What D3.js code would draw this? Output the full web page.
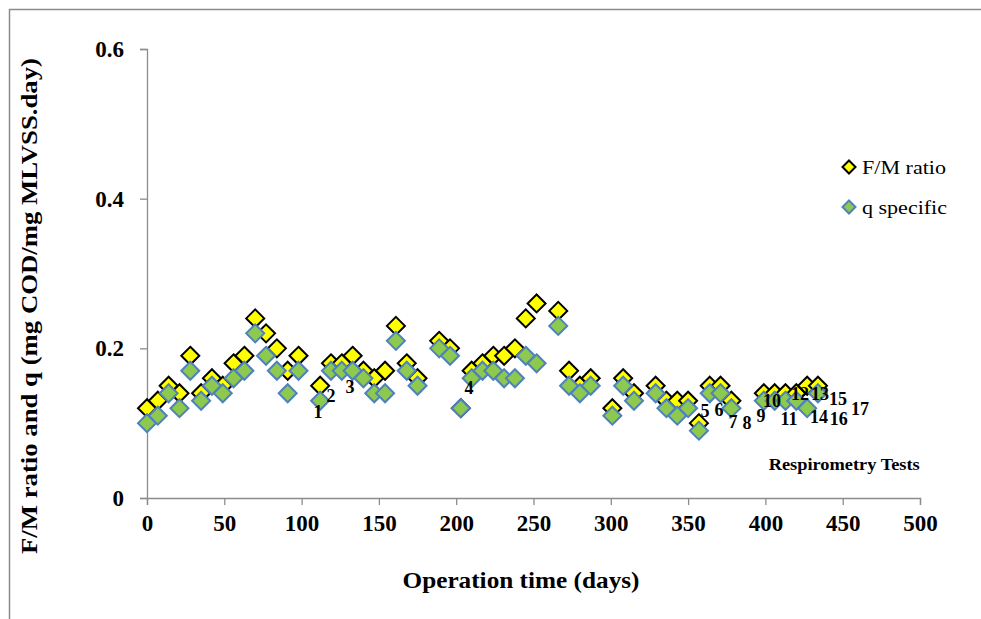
<!DOCTYPE html>
<html>
<head>
<meta charset="utf-8">
<script src="https://cdn.jsdelivr.net/npm/d3@7"></script>
<style>
  body { margin: 0; background: #fff; }
  svg { display: block; }
  text { font-family: "Liberation Serif", "Times New Roman", serif; }
</style>
</head>
<body>
<script>
// ---- data ----
const days = [0,7,14,21,28,35,42,49,56,63,70,77,84,91,98,
  112,119,126,133,140,147,154,161,168,175,
  189,196,203,210,217,224,231,238,245,252,
  266,273,280,287,
  301,308,315,
  329,336,343,350,357,364,371,378,
  399,406,413,420,427,434];
const fmRatio = [0.12,0.13,0.15,0.14,0.19,0.14,0.16,0.15,0.18,0.19,0.24,0.22,0.20,0.17,0.19,
  0.15,0.18,0.18,0.19,0.17,0.16,0.17,0.23,0.18,0.16,
  0.21,0.20,0.12,0.17,0.18,0.19,0.19,0.20,0.24,0.26,
  0.25,0.17,0.15,0.16,
  0.12,0.16,0.14,
  0.15,0.13,0.13,0.13,0.10,0.15,0.15,0.13,
  0.14,0.14,0.14,0.14,0.15,0.15];
const qSpecific = [0.10,0.11,0.14,0.12,0.17,0.13,0.15,0.14,0.16,0.17,0.22,0.19,0.17,0.14,0.17,
  0.13,0.17,0.17,0.17,0.16,0.14,0.14,0.21,0.17,0.15,
  0.20,0.19,0.12,0.16,0.17,0.17,0.16,0.16,0.19,0.18,
  0.23,0.15,0.14,0.15,
  0.11,0.15,0.13,
  0.14,0.12,0.11,0.12,0.09,0.14,0.14,0.12,
  0.13,0.13,0.13,0.13,0.12,0.14];
const seriesNames = ["F/M ratio", "q specific"];
const xTicks = [0,50,100,150,200,250,300,350,400,450,500];
const yTicks = [0,0.2,0.4,0.6];
const testLabels = ["1","2","3","4","5","6","7","8","9","10","11","12","13","14","15","16","17"];
const testDay = [110.6,119,131.3,208.3,360.9,370,379,388.1,397.2,404.3,415.3,422.4,435.3,434.7,447,447.5,461.2];
const testVal = [0.107,0.128,0.140,0.139,0.108,0.110,0.094,0.092,0.102,0.122,0.098,0.131,0.131,0.100,0.124,0.098,0.111];

// ---- chart ----
const W = 981, H = 619;
const svg = d3.select("body").append("svg").attr("width", W).attr("height", H);

svg.append("rect").attr("x", 9.5).attr("y", 9.5).attr("width", 1000).attr("height", 700)
  .attr("fill", "none").attr("stroke", "#8c8c8c").attr("stroke-width", 1.5);

const x = d3.scaleLinear().domain([0, 500]).range([147, 920]);
const y = d3.scaleLinear().domain([0, 0.6]).range([498, 49]);
const axisColor = "#8c8c8c";

const xAxis = svg.append("g").attr("transform", `translate(0,${y(0)})`)
  .call(d3.axisBottom(x).tickValues(xTicks).tickFormat(d3.format("d")).tickSize(7).tickPadding(10));
const yAxis = svg.append("g").attr("transform", `translate(${x(0)},0)`)
  .call(d3.axisLeft(y).tickValues(yTicks).tickFormat(d => d === 0 ? "0" : d3.format(".1f")(d)).tickSize(7).tickPadding(16));
[xAxis, yAxis].forEach(g => {
  g.select(".domain").attr("stroke", axisColor).attr("stroke-width", 1.3);
  g.selectAll(".tick line").attr("stroke", axisColor).attr("stroke-width", 1.3);
  g.selectAll(".tick text").attr("fill", "#000")
    .style("font-family", '"Liberation Serif", serif').style("font-weight", "bold").style("font-size", "23px");
});

const diamond = r => `M0,${-r}L${r},0L0,${r}L${-r},0Z`;

const styles = [
  { fill: "#ffff00", stroke: "#000000" },
  { fill: "#8dc94e", stroke: "#4f81bd" }
];
[fmRatio, qSpecific].forEach((vals, si) => {
  svg.append("g").selectAll("path").data(days).join("path")
    .attr("d", diamond(9))
    .attr("transform", (d, i) => `translate(${x(d)},${y(vals[i])})`)
    .attr("fill", styles[si].fill)
    .attr("stroke", styles[si].stroke)
    .attr("stroke-width", 2)
    .attr("stroke-linejoin", "miter");
});

// test labels
svg.append("g").selectAll("text").data(testLabels).join("text")
  .attr("x", (d, i) => x(testDay[i]))
  .attr("y", (d, i) => y(testVal[i]))
  .attr("text-anchor", "middle")
  .style("font-weight", "bold").style("font-size", "18px")
  .text(d => d);

svg.append("text").attr("x", x(451)).attr("y", y(0.037)).attr("text-anchor", "middle")
  .attr("textLength", 151).attr("lengthAdjust", "spacingAndGlyphs")
  .style("font-weight", "bold").style("font-size", "16px").text("Respirometry Tests");

// legend
const lg = svg.append("g");
seriesNames.forEach((name, i) => {
  const cy = 167 + i * 40;
  lg.append("path").attr("d", diamond(6.5)).attr("transform", `translate(849,${cy})`)
    .attr("fill", styles[i].fill).attr("stroke", styles[i].stroke).attr("stroke-width", 2);
  lg.append("text").attr("x", 862).attr("y", cy + 7)
    .attr("textLength", i === 0 ? 84 : 85).attr("lengthAdjust", "spacingAndGlyphs")
    .style("font-size", "19px").text(name);
});

// axis titles
svg.append("text").attr("x", 521).attr("y", 588).attr("text-anchor", "middle")
  .attr("textLength", 237).attr("lengthAdjust", "spacingAndGlyphs")
  .style("font-weight", "bold").style("font-size", "23px").text("Operation time (days)");
svg.append("text").attr("transform", "translate(37,306) rotate(-90)").attr("text-anchor", "middle")
  .attr("textLength", 496).attr("lengthAdjust", "spacingAndGlyphs")
  .style("font-weight", "bold").style("font-size", "23px").text("F/M ratio and q (mg COD/mg MLVSS.day)");
</script>
</body>
</html>
